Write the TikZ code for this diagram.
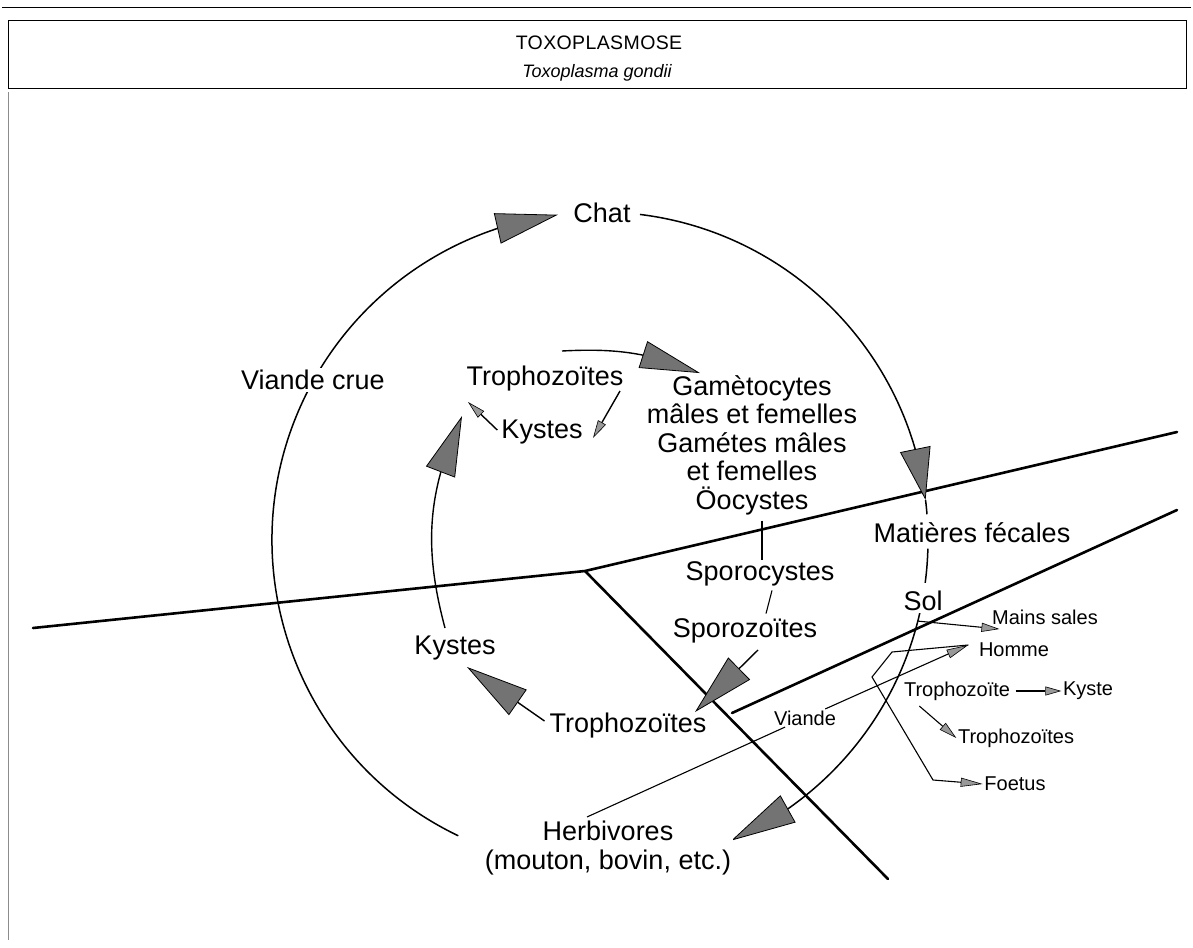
\documentclass[tikz,border=0pt]{standalone}
\usepackage{fontspec}
\setmainfont{Liberation Sans}
\usetikzlibrary{arrows.meta,bending,calc}
\begin{document}
\begin{tikzpicture}[x=1pt,y=1pt,
  lbl/.style={font=\fontsize{27}{28.5}\selectfont, inner sep=2pt},
  onarc/.style={lbl, fill=white},
  slbl/.style={font=\fontsize{20}{22}\selectfont, inner sep=1.5pt},
  thickline/.style={line width=2.6pt, line cap=round},
  cyc/.style={line width=1.5pt},
  inner/.style={line width=1.4pt},
  fine/.style={line width=1.1pt},
  bigtip/.style={-{Triangle[length=#1,width=31pt,fill=black!55,line width=0.8pt]}},
  smalltip/.style={-{Triangle[length=#1,width=9pt,fill=black!40,line width=0.6pt]}},
]
\useasboundingbox (0,0) rectangle (1193,-947);

% title
\draw[line width=0.9pt] (2,-7) -- (1191,-7);
\draw[line width=0.8pt] (8,-20) rectangle (1186,-88);
\node[font=\fontsize{19.5}{22}\selectfont\addfontfeatures{LetterSpace=2}] (title) at (599,-43) {TOXOPLASMOSE};
\node[font=\itshape\fontsize{18}{20}\selectfont] (sub) at (597,-73) {Toxoplasma gondii};
\draw[black!45, line width=0.5pt] (8,-92) -- (8,-940);

% thick lines
\coordinate (L1) at (33,-628);
\coordinate (J) at (585,-571);
\coordinate (R1) at (1177,-432);
\coordinate (D) at (888,-879);
\coordinate (L3) at (732,-713);
\coordinate (R3) at (1177,-510);
\draw[thickline] (L1) -- (J) -- (R1);
\draw[thickline] (J) -- (D);
\draw[thickline] (L3) -- (R3);

% big cycle
\coordinate (c) at (600,-540);
\draw[cyc, bigtip=62pt] ($(c)+(244.4:328)$) arc[start angle=244.4, end angle=97.4, radius=328];
\draw[cyc, bigtip=52pt] ($(c)+(83:328)$) arc[start angle=83, end angle=7, radius=328];
\draw[cyc] ($(c)+(7:328)$) arc[start angle=7, end angle=4.5, radius=328];
\draw[cyc] ($(c)+(-1.5:328)$) arc[start angle=-1.5, end angle=-7.5, radius=328];
\draw[cyc, bigtip=65pt] ($(c)+(-10:328)$) arc[start angle=-10, end angle=-66.4, radius=328];

% labels on the big cycle
\node[onarc] (chat) at (602,-213) {Chat};
\node[onarc] (vc) at (313,-380) {Viande crue};
\node[onarc] (mf) at (972,-533) {Matières fécales};
\node[onarc] (sol) at (923,-601) {Sol};
\node[onarc, align=center] (herb) at (608,-848) {Herbivores\\(mouton, bovin, etc.)};

% inner labels
\node[lbl] (t1) at (545,-379) {Trophozoïtes};
\node[lbl] (k1) at (542,-432) {Kystes};
\node[lbl, align=center] (gam) at (752,-445) {Gamètocytes\\mâles et femelles\\Gamétes mâles\\et femelles\\Öocystes};
\node[lbl] (spc) at (760,-574) {Sporocystes};
\node[lbl] (spz) at (745,-631) {Sporozoïtes};
\node[lbl] (k2) at (455,-648) {Kystes};
\node[lbl] (t2) at (628,-726) {Trophozoïtes};

% inner connectors
\draw[inner, -{Triangle[length=60pt,width=28pt,fill=black!55,line width=0.8pt]}]
  ($(t1.center)+(17,28)$) to[out=3,in=158] ($(gam.north)+(-52,0)$);
\draw[inner, smalltip=18pt] ($(t1.center)+(75,-12)$) -- ($(k1.center)+(51,-6)$);
\draw[inner, smalltip=18pt] ($(k1.west)+(-2,2)$) -- ($(t1.center)+(-77,-23)$);
\draw[inner, bigtip=60pt] ($(k2.center)+(-10,20)$) to[out=105,in=245] ($(t1.center)+(-83,-37)$);
\draw[inner, bigtip=62pt] ($(t2.west)+(-3,5)$) -- ($(k2.center)+(12,-19)$);
\draw[inner, bigtip=62pt] ($(spz.center)+(13,-19)$) -- ($(t2.center)+(67,14)$);
\draw[fine] ($(gam.south)+(10,-4)$) -- ($(spc.north)+(2,0)$);
\draw[fine] ($(spc.south)+(12,-2)$) -- ($(spz.north)+(21,3)$);

% small labels on the right
\node[slbl] (mains) at (1045,-617) {Mains sales};
\node[slbl] (homme) at (1014,-650) {Homme};
\node[slbl] (troz) at (957,-691) {Trophozoïte};
\node[slbl] (kyste) at (1088,-691) {Kyste};
\node[slbl] (trozs) at (1016,-738) {Trophozoïtes};
\node[slbl] (foetus) at (1015,-784) {Foetus};
\node[slbl, fill=white] (viande) at (805,-718) {Viande};

% small connectors
\coordinate (hv) at ($(herb.north)+(-21,2)$);
\coordinate (ht) at ($(homme.west)+(-9,5)$);
\coordinate (z1) at (892,-652);
\coordinate (z2) at (872,-677);
\coordinate (z3) at (933,-780);
\draw[fine, smalltip=18pt] ($(sol.south)+(-5,-8)$) -- ($(mains.south west)+(9,-3)$);
\draw[fine] (hv) -- (viande);
\draw[fine, smalltip=22pt] (viande) -- (ht);
\draw[fine, smalltip=22pt] (ht) -- (z1) -- (z2) -- (z3) -- (foetus.west);
\draw[fine, smalltip=16pt] ([xshift=4pt]troz.east) -- (kyste.west);
\draw[fine, smalltip=18pt] ($(troz.south west)+(17,-4)$) -- (trozs.west);
\end{tikzpicture}
\end{document}
